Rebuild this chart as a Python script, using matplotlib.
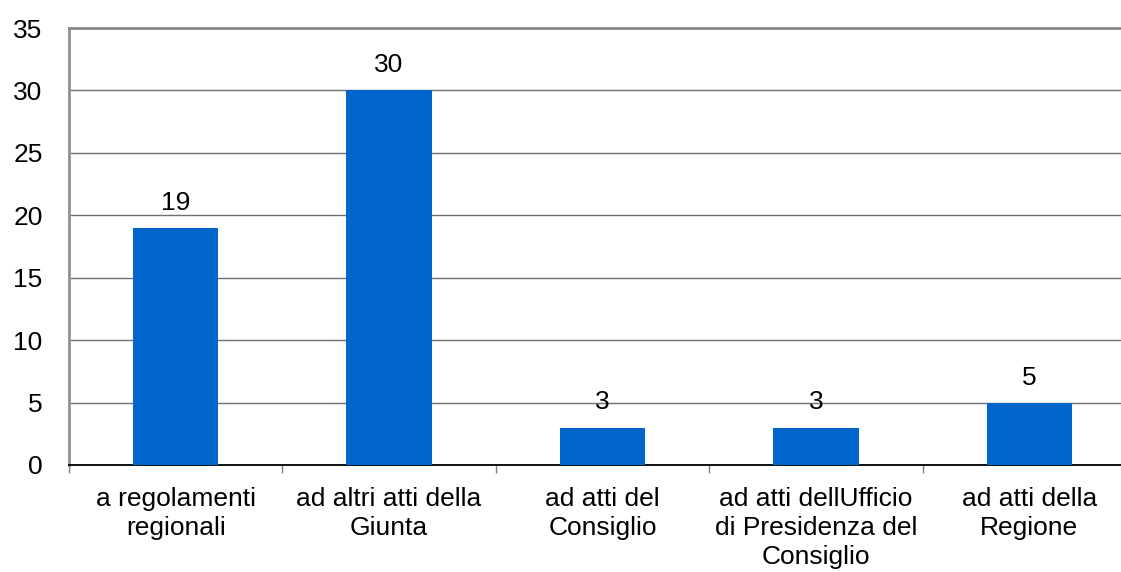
import matplotlib.pyplot as plt

# categories and counts
categorie = ['a regolamenti\nregionali', 'ad altri atti della\nGiunta', 'ad atti del\nConsiglio',
             'ad atti dellUfficio\ndi Presidenza del\nConsiglio', 'ad atti della\nRegione']
valori = [19, 30, 3, 3, 5]
y_ticks = [0, 5, 10, 15, 20, 25, 30, 35]

plt.rcParams['font.family'] = ['Liberation Sans', 'DejaVu Sans']
FS = 19

fig = plt.figure(figsize=(11.21, 5.72), dpi=100)
# plot area runs a little past the right edge of the figure
ax = fig.add_axes([69 / 1121, 1 - 465 / 572, (1136 - 69) / 1121, (465 - 28) / 572])

x = list(range(len(categorie)))
ax.bar(x, valori, width=0.40, color='#0066CC', zorder=3)

# value labels above bars
for xi, v in zip(x, valori):
    ax.annotate(str(v), (xi, v), xytext=(0, 13), textcoords='offset points',
                ha='center', va='baseline', fontsize=FS)

ax.set_xlim(-0.5, len(categorie) - 0.5)
ax.set_ylim(0, 35)
ax.set_yticks(y_ticks)
ax.set_yticklabels([str(t) for t in y_ticks], fontsize=FS)
ax.yaxis.grid(True, color='#707070', linewidth=1, zorder=0)
ax.tick_params(axis='y', length=0, pad=19)

# category labels centred, ticks at boundaries
ax.set_xticks(x)
ax.set_xticklabels(categorie, fontsize=FS, linespacing=1.27)
ax.tick_params(axis='x', which='major', length=0, pad=16)
ax.set_xticks([i - 0.5 for i in range(len(categorie) + 1)], minor=True)
ax.tick_params(axis='x', which='minor', length=6, color='#808080', width=1)

ax.spines['right'].set_visible(False)
ax.spines['top'].set_color('#8a8a8a')
ax.spines['top'].set_linewidth(2)
ax.spines['left'].set_color('#909090')
ax.spines['left'].set_linewidth(2)
ax.spines['bottom'].set_color('black')
ax.spines['bottom'].set_linewidth(1.3)

fig.savefig('out.png', dpi=100)
